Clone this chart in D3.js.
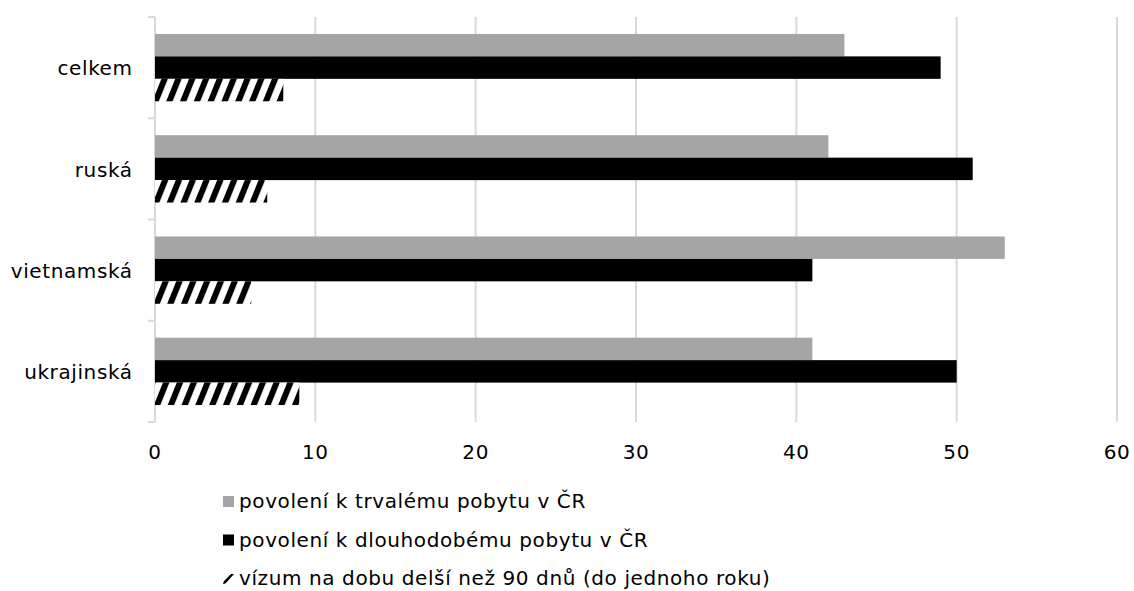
<!DOCTYPE html>
<html>
<head>
<meta charset="utf-8">
<script src="https://cdn.jsdelivr.net/npm/d3@7"></script>
<style>
  html, body { margin: 0; padding: 0; background: #fff; }
  svg { display: block; font-family: "DejaVu Sans", Verdana, sans-serif; }
</style>
</head>
<body>
<svg id="chart" width="1134" height="591"></svg>
<script>
// Nationalities (top to bottom)
const categories = ["celkem", "ruská", "vietnamská", "ukrajinská"];

// Series names
const seriesNames = [
  "povolení k trvalému pobytu v ČR",
  "povolení k dlouhodobému pobytu v ČR",
  "vízum na dobu delší než 90 dnů (do jednoho roku)"
];

// Values per series, in category order
const trvaly = [43, 42, 53, 41];
const dlouhodoby = [49, 51, 41, 50];
const vizum = [8, 7, 6, 9];

const xTicks = [0, 10, 20, 30, 40, 50, 60];

const seriesValues = [trvaly, dlouhodoby, vizum];

const svg = d3.select("#chart");
const margin = { left: 155, right: 17, top: 17, bottom: 169 };
const width = 1134, height = 591;
const fontSize = 20;
const spacing = 0.6;

// Hatch pattern for the visa series
const defs = svg.append("defs");
const pat = defs.append("pattern")
  .attr("id", "hatch")
  .attr("patternUnits", "userSpaceOnUse")
  .attr("width", 12.8)
  .attr("height", 12.8)
  .attr("patternTransform", "rotate(22)");
pat.append("rect").attr("width", 12.8).attr("height", 12.8).attr("fill", "#fff");
pat.append("rect").attr("x", 0).attr("width", 6).attr("height", 12.8).attr("fill", "#000");

const fills = ["#a5a5a5", "#000000", "url(#hatch)"];

const x = d3.scaleLinear()
  .domain([0, 60])
  .range([margin.left, width - margin.right]);

const y = d3.scaleBand()
  .domain(categories)
  .range([margin.top, height - margin.bottom])
  .paddingInner(0.335)
  .paddingOuter(0.1675);

const ySub = d3.scaleBand()
  .domain(d3.range(seriesValues.length))
  .range([0, y.bandwidth()]);

// Vertical gridlines
svg.append("g")
  .selectAll("line")
  .data(xTicks.filter(d => d !== 0))
  .join("line")
  .attr("x1", d => x(d)).attr("x2", d => x(d))
  .attr("y1", margin.top).attr("y2", height - margin.bottom)
  .attr("stroke", "#d9d9d9")
  .attr("stroke-width", 2);

// Category axis line with boundary ticks
const yAxisG = svg.append("g");
yAxisG.append("line")
  .attr("x1", x(0)).attr("x2", x(0))
  .attr("y1", margin.top).attr("y2", height - margin.bottom)
  .attr("stroke", "#d9d9d9").attr("stroke-width", 2);
const step = y.step();
const boundaries = d3.range(categories.length + 1).map(i => margin.top + i * step);
yAxisG.selectAll("line.tick")
  .data(boundaries)
  .join("line")
  .attr("class", "tick")
  .attr("x1", x(0) - 7).attr("x2", x(0))
  .attr("y1", d => d).attr("y2", d => d)
  .attr("stroke", "#d9d9d9").attr("stroke-width", 2);

// Bars
seriesValues.forEach((vals, si) => {
  svg.append("g")
    .selectAll("rect")
    .data(vals.map((v, i) => ({ cat: categories[i], v })))
    .join("rect")
    .attr("x", x(0))
    .attr("y", d => y(d.cat) + ySub(si))
    .attr("width", d => x(d.v) - x(0))
    .attr("height", ySub.bandwidth())
    .attr("fill", fills[si]);
});

// Category labels
svg.append("g")
  .selectAll("text")
  .data(categories)
  .join("text")
  .attr("x", x(0) - 23 + spacing)
  .attr("y", d => y(d) + y.bandwidth() / 2 + 7.7)
  .attr("text-anchor", "end")
  .attr("font-size", fontSize)
  .attr("letter-spacing", spacing)
  .attr("fill", "#000")
  .text(d => d);

// Value axis labels
svg.append("g")
  .selectAll("text")
  .data(xTicks)
  .join("text")
  .attr("x", d => x(d))
  .attr("y", 459)
  .attr("text-anchor", "middle")
  .attr("font-size", fontSize)
  .attr("letter-spacing", spacing)
  .attr("fill", "#000")
  .text(d => d);

// Legend
const legend = svg.append("g");
const legendBase = [508, 546.5, 585];
seriesNames.forEach((name, i) => {
  const g = legend.append("g").attr("transform", `translate(223, ${legendBase[i]})`);
  if (i < 2) {
    g.append("rect")
      .attr("x", 0).attr("y", -12)
      .attr("width", 11).attr("height", 11)
      .attr("fill", fills[i]);
  } else {
    g.append("path")
      .attr("d", "M0,-1 L1,-4 L8,-11 L11,-11 L3,-2 L1,-1 Z")
      .attr("fill", "#000");
  }
  g.append("text")
    .attr("x", 16)
    .attr("y", 0)
    .attr("font-size", fontSize)
    .attr("letter-spacing", spacing)
    .attr("fill", "#000")
    .text(name);
});
</script>
</body>
</html>
